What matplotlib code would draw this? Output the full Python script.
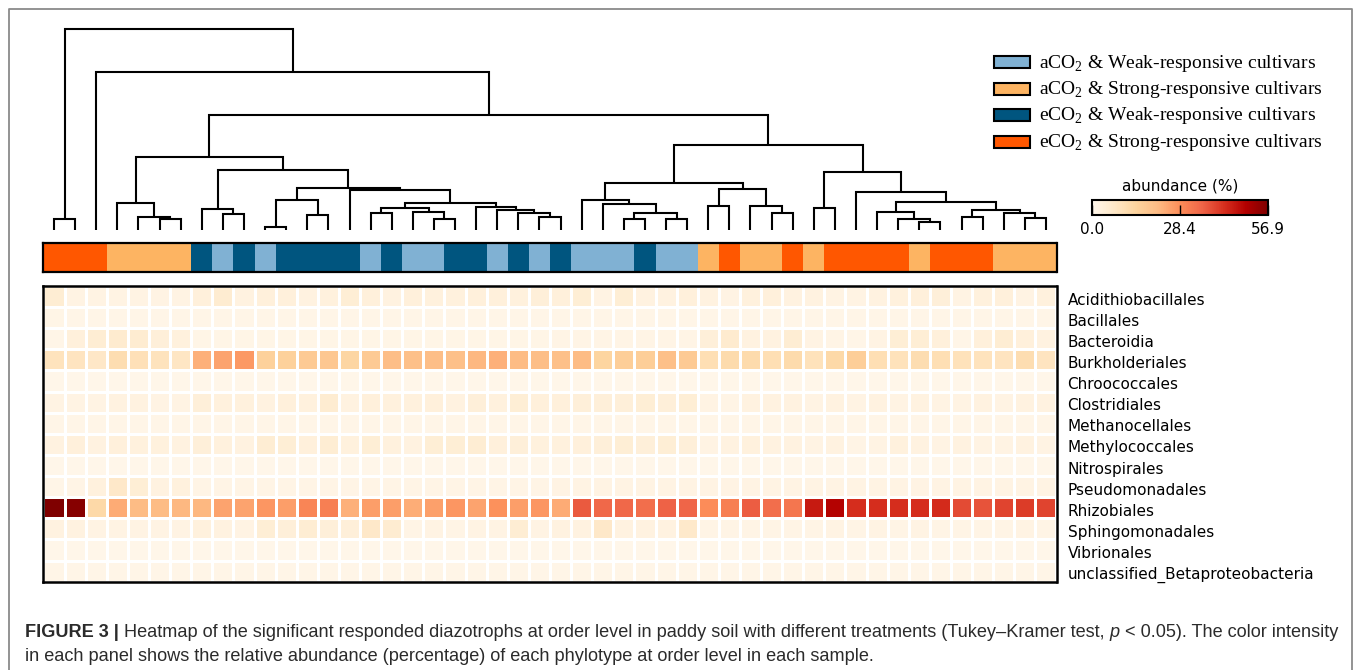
import numpy as np
import matplotlib
matplotlib.use("Agg")
import matplotlib.pyplot as plt
from matplotlib.colors import ListedColormap
from matplotlib.patches import Rectangle
from matplotlib.lines import Line2D
from matplotlib.transforms import ScaledTranslation

# ---------------- data ----------------
orders = ["Acidithiobacillales", "Bacillales", "Bacteroidia", "Burkholderiales",
          "Chroococcales", "Clostridiales", "Methanocellales", "Methylococcales",
          "Nitrospirales", "Pseudomonadales", "Rhizobiales", "Sphingomonadales",
          "Vibrionales", "unclassified_Betaproteobacteria"]

group_names = ["aCO$_\\mathregular{2}$ & Weak-responsive cultivars",
               "aCO$_\\mathregular{2}$ & Strong-responsive cultivars",
               "eCO$_\\mathregular{2}$ & Weak-responsive cultivars",
               "eCO$_\\mathregular{2}$ & Strong-responsive cultivars"]
group_colors = ["#80b1d3", "#fdb462", "#00557f", "#ff5700"]

# treatment group of each sample column (dendrogram leaf order)
sample_group = [3, 3, 3, 1, 1, 1, 1, 2, 0, 2, 0, 2, 2, 2, 2, 0, 2, 0, 0, 2, 2, 0, 2, 0,
                2, 0, 0, 0, 2, 0, 0, 1, 3, 1, 1, 3, 1, 3, 3, 3, 3, 1, 3, 3, 3, 1, 1, 1]

# hierarchical clustering merges: [child_a, child_b, distance]; ids >= 48 are earlier merges
linkage = [
    [5, 6, 10.7], [4, 48, 12.7], [3, 49, 26.7], [0, 1, 10.7], [8, 9, 15.7],
    [7, 52, 21.0], [10, 11, 2.7], [12, 13, 15.0], [54, 55, 29.7], [15, 16, 16.7],
    [18, 19, 10.7], [17, 58, 18.3], [57, 59, 22.0], [23, 24, 13.5], [22, 61, 16.8],
    [21, 62, 20.0], [20, 63, 23.3], [60, 64, 27.3], [14, 65, 40.3], [56, 66, 42.3],
    [53, 67, 60.0], [50, 68, 73.3], [27, 28, 11.5], [29, 30, 11.5], [70, 71, 16.9],
    [26, 72, 26.4], [25, 73, 29.7], [31, 32, 23.7], [34, 35, 16.9], [33, 76, 24.3],
    [75, 77, 40.6], [74, 78, 47.3], [36, 37, 22.0], [41, 42, 8.5], [40, 81, 10.8],
    [39, 82, 17.6], [43, 44, 13.5], [46, 47, 11.8], [45, 85, 16.9], [84, 86, 20.3],
    [83, 87, 27.7], [38, 88, 38.2], [80, 89, 58.5], [79, 90, 85.2], [69, 91, 115.0],
    [2, 92, 158.0], [51, 93, 200.7],
]

# relative abundance (%) per order (rows) and sample (columns)
acidithiobacillales = [5, 2, 2, 2, 2, 2, 2, 3.5, 5.5, 2.5, 3.5, 3.5, 2.5, 3, 4.5, 3.5, 2.5, 3.5, 3, 3, 3.5, 3.5, 3, 4,
                       3.5, 4.5, 2, 4.5, 2.5, 2.5, 3.5, 2.5, 2, 3, 3.5, 2.5, 2.5, 2, 2, 2.5, 3, 3.5, 4, 2, 3, 3.5, 2, 3]
bacillales = [1.2, 1, 1, 1, 1, 1, 1, 1, 1, 1, 1, 1, 1, 1, 1, 1, 1, 1, 1, 1, 1, 1, 1, 1,
              1, 1, 1, 1, 1, 1, 1, 1, 1, 1, 1, 1, 1, 1, 1, 1, 1, 1, 1, 1, 1, 1, 1, 1]
bacteroidia = [1, 3.5, 5, 6, 5.5, 4, 3, 1.2, 1.2, 1.2, 1.2, 1.2, 1.2, 1.2, 1.2, 1.2, 1.2, 1.2, 1.2, 1.2, 1.2, 1.2, 1.2, 1.2,
               1.5, 1.5, 1.5, 1.5, 1.5, 1.5, 1.5, 4, 6, 2.5, 2.5, 5, 2, 1.5, 1, 2, 4.5, 4.5, 3.5, 1, 3.5, 5, 3.5, 2.5]
burkholderiales = [9, 8.5, 7.5, 11, 10, 9, 8, 23, 25, 26.5, 15, 15, 17, 18, 13.5, 17, 20.5, 20, 20.5, 20, 22, 23, 21, 20.5,
                   20, 21, 14, 16, 16, 20, 17, 10.5, 12, 12, 10.5, 12, 9.5, 12.5, 16, 10.5, 9.5, 11, 10.5, 9.5, 9, 8.5, 11, 8.5]
chroococcales = [0.8, 0.8, 0.8, 0.8, 0.8, 0.8, 0.8, 0.8, 0.8, 0.8, 0.8, 0.8, 0.8, 0.8, 0.8, 0.8, 0.8, 0.8, 0.8, 0.8, 0.8, 0.8, 0.8, 0.8,
                 0.8, 0.8, 0.8, 0.8, 0.8, 0.8, 0.8, 0.8, 0.8, 0.8, 0.8, 0.8, 0.8, 0.8, 0.8, 0.8, 0.8, 0.8, 0.8, 0.8, 0.8, 0.8, 0.8, 0.8]
clostridiales = [2, 2, 2, 2.5, 2.5, 2, 2, 4, 3, 3, 2.5, 3.5, 3, 5.5, 2.5, 3.5, 3, 3, 3.5, 2.5, 4, 3, 4.5, 3.5,
                 3.5, 4, 4, 4, 4.5, 4, 4.5, 2, 1.5, 2.5, 2.5, 2.5, 2, 2.5, 2, 2.5, 2, 2.5, 2, 2, 2.5, 2, 2.5, 2.5]
methanocellales = [1, 1, 1, 1, 1, 1, 1, 1, 1, 1, 1, 1, 1, 1, 1, 1, 1, 1, 1, 1, 1, 1, 1, 1,
                   1, 1, 1, 1, 1, 1, 1, 1, 1, 1, 1, 1, 1, 1, 1, 1, 1, 1, 1, 1, 1, 1, 1, 1]
methylococcales = [2.5, 3.5, 2.5, 3.5, 3, 3, 2.5, 4, 3, 2.5, 5, 4.5, 3.5, 5, 3, 4.5, 3, 2.5, 4.5, 4.5, 5, 3.5, 4, 3,
                   3, 3.5, 4, 4.5, 4, 4.5, 4, 2, 2.5, 3, 2.5, 2.5, 2, 2.5, 1.5, 2, 3, 2.5, 2, 2.5, 2, 2, 2.5, 2]
nitrospirales = [0.8, 0.8, 0.8, 0.8, 0.8, 0.8, 0.8, 0.8, 0.8, 0.8, 0.8, 0.8, 0.8, 0.8, 0.8, 0.8, 0.8, 0.8, 0.8, 0.8, 0.8, 0.8, 0.8, 0.8,
                 0.8, 0.8, 0.8, 0.8, 0.8, 0.8, 0.8, 0.8, 0.8, 0.8, 0.8, 0.8, 0.8, 0.8, 0.8, 0.8, 0.8, 0.8, 0.8, 0.8, 0.8, 0.8, 0.8, 0.8]
pseudomonadales = [1, 1.5, 3, 7, 4.5, 2.5, 3, 1.5, 1.5, 1.5, 1.5, 1.5, 1.5, 1.5, 1.5, 1.5, 1.5, 1.5, 1.5, 1.5, 1.5, 1.5, 1.5, 1.5,
                   1.8, 1.8, 1.8, 1.8, 1.8, 1.8, 1.8, 1.8, 1.8, 1.8, 1.8, 1.8, 1.8, 1.8, 1.8, 1.8, 1.8, 1.8, 1.8, 1.8, 1.8, 1.8, 1.8, 1.8]
rhizobiales = [56.9, 56, 12.5, 24, 21, 21, 22, 22, 25, 25, 27, 26, 30, 31, 23, 26, 26, 23.5, 25.5, 27, 25, 28, 26, 27,
               24, 37, 35, 35, 34, 36, 35.5, 28.5, 31, 36.5, 34, 32.5, 46, 49.5, 43, 43, 43, 43, 43.5, 39, 38, 40, 41, 40]
sphingomonadales = [2.5, 2.5, 2, 2, 2, 2, 2, 3, 2.5, 2, 4.5, 4, 5, 4, 4, 7, 5.5, 1.5, 2, 1.5, 2, 2, 5, 2,
                    2.5, 2.5, 7, 2.5, 2.5, 2.5, 6.5, 1.5, 1.5, 1.5, 1.5, 1.5, 1.5, 2, 1.5, 2, 1.5, 2, 1.5, 1.5, 1.5, 1.5, 2, 1.5]
vibrionales = [0.8, 0.8, 0.8, 0.8, 0.8, 0.8, 0.8, 0.8, 0.8, 0.8, 0.8, 0.8, 0.8, 0.8, 0.8, 0.8, 0.8, 0.8, 0.8, 0.8, 0.8, 0.8, 0.8, 0.8,
               0.8, 0.8, 0.8, 0.8, 0.8, 0.8, 0.8, 0.8, 0.8, 0.8, 0.8, 0.8, 0.8, 0.8, 0.8, 0.8, 0.8, 0.8, 0.8, 0.8, 0.8, 0.8, 0.8, 0.8]
unclassified_beta = [0.9, 0.9, 0.9, 0.9, 0.9, 0.9, 0.9, 0.9, 0.9, 0.9, 0.9, 0.9, 0.9, 0.9, 0.9, 0.9, 0.9, 0.9, 0.9, 0.9, 0.9, 0.9, 0.9, 0.9,
                     0.9, 0.9, 0.9, 0.9, 0.9, 0.9, 0.9, 0.9, 0.9, 0.9, 0.9, 0.9, 0.9, 0.9, 0.9, 0.9, 0.9, 0.9, 0.9, 0.9, 0.9, 0.9, 0.9, 0.9]

cbar_ticks = [0.0, 28.45, 56.9]
cbar_ticklabels = ["0.0", "28.4", "56.9"]

caption_line1 = [("FIGURE 3 | ", "bold", "normal"),
                 ("Heatmap of the significant responded diazotrophs at order level in paddy soil with different "
                  "treatments (Tukey\u2013Kramer test, ", "normal", "normal"),
                 ("p", "normal", "italic"),
                 (" < 0.05). The color intensity", "normal", "normal")]
caption_line2 = [("in each panel shows the relative abundance (percentage) of each phylotype at order level in each sample.",
                  "normal", "normal")]

# ---------------- figure ----------------
W, H = 1358, 670
fig = plt.figure(figsize=(W / 100, H / 100), dpi=100)
fig.patch.set_facecolor("white")


def ax_px(l, t, r, b):
    return fig.add_axes([l / W, 1 - b / H, (r - l) / W, (b - t) / H])


values = np.array([acidithiobacillales, bacillales, bacteroidia, burkholderiales, chroococcales,
                   clostridiales, methanocellales, methylococcales, nitrospirales, pseudomonadales,
                   rhizobiales, sphingomonadales, vibrionales, unclassified_beta])
n_rows, n_cols = values.shape

# dendrogram
axd = ax_px(43.5, 20, 1056.5, 230)
pos = {i: i + 0.5 for i in range(n_cols)}
hgt = {i: 0.0 for i in range(n_cols)}
for k, (a, b, h) in enumerate(linkage):
    xa, xb = pos[a], pos[b]
    axd.plot([xa, xa, xb, xb], [hgt[a], h, h, hgt[b]], color="black", lw=1.5,
             solid_joinstyle="miter", solid_capstyle="butt", clip_on=False)
    pos[n_cols + k] = (xa + xb) / 2
    hgt[n_cols + k] = h
axd.set_xlim(0, n_cols)
axd.set_ylim(0, 210)
axd.axis("off")

# group colour strip
axs = ax_px(43.5, 243.5, 1056.5, 272.3)
axs.pcolormesh(np.array([sample_group]), cmap=ListedColormap(group_colors), vmin=-0.5, vmax=3.5)
axs.set_xlim(0, n_cols)
axs.set_ylim(0, 1)
axs.set_xticks([])
axs.set_yticks([])
for sp in axs.spines.values():
    sp.set_linewidth(1.6)
    sp.set_color("black")

# heatmap
axh = ax_px(43.5, 286, 1056.5, 581.7)
mesh = axh.pcolormesh(values, cmap="OrRd", vmin=0, vmax=56.9, edgecolors="white", linewidth=1.8)
axh.set_xlim(0, n_cols)
axh.set_ylim(n_rows, 0)
axh.set_xticks([])
axh.yaxis.tick_right()
axh.set_yticks(np.arange(n_rows) + 0.5)
axh.set_yticklabels(orders, fontsize=11, family="DejaVu Sans")
axh.tick_params(axis="y", length=0, pad=8)
shift = ScaledTranslation(0, -2 / 100, fig.dpi_scale_trans)
for lbl in axh.get_yticklabels():
    lbl.set_transform(lbl.get_transform() + shift)
for sp in axh.spines.values():
    sp.set_linewidth(1.8)
    sp.set_color("black")

# colour bar
axc = ax_px(1092, 200.5, 1268, 215)
cb = fig.colorbar(mesh, cax=axc, orientation="horizontal", ticks=cbar_ticks)
cb.set_ticklabels(cbar_ticklabels)
cb.outline.set_linewidth(1.5)
axc.tick_params(direction="in", length=7, width=1, labelsize=11, pad=5)
axc.set_title("abundance (%)", fontsize=11, pad=7)

# legend (manual)
leg_y0, leg_dy = 62, 26.5
for i, (name, col) in enumerate(zip(group_names, group_colors)):
    yc = leg_y0 + i * leg_dy
    fig.patches.append(Rectangle((994 / W, 1 - (yc + 6) / H), 36 / W, 12 / H, transform=fig.transFigure,
                                 facecolor=col, edgecolor="black", lw=1.5))
    fig.text(1039 / W, 1 - (yc + 5.5) / H, name, fontsize=14, family="Liberation Serif",
             va="baseline", ha="left", color="black")

# outer frame
frame_col = "#8a8a8a"
fig.add_artist(Line2D([8.5 / W, 8.5 / W, 1352 / W, 1352 / W], [0, 1 - 9 / H, 1 - 9 / H, 0],
                      transform=fig.transFigure, color=frame_col, lw=1.3))

# caption
fig.canvas.draw()
rend = fig.canvas.get_renderer()
cap_font = ["Liberation Sans", "DejaVu Sans"]


def advance(s, weight, style, fs):
    t1 = fig.text(0, 0, "|" + s + "|", fontsize=fs, fontweight=weight, fontstyle=style, family=cap_font)
    t2 = fig.text(0, 0, "||", fontsize=fs, fontweight=weight, fontstyle=style, family=cap_font)
    w = t1.get_window_extent(rend).width - t2.get_window_extent(rend).width
    t1.remove()
    t2.remove()
    return w


base_fs = 12.0
total = sum(advance(s, w, st, base_fs) for s, w, st in caption_line1)
cap_fs = base_fs * (1338 - 25) / total


def place(pieces, x0, ybase):
    x = x0
    for s, w, st in pieces:
        fig.text(x / W, 1 - ybase / H, s, fontsize=cap_fs, fontweight=w, fontstyle=st, family=cap_font,
                 va="baseline", ha="left", color="#2b2b2b")
        x += advance(s, w, st, cap_fs)


place(caption_line1, 25, 637)
place(caption_line2, 25, 661)

fig.savefig("out.png", dpi=100)
